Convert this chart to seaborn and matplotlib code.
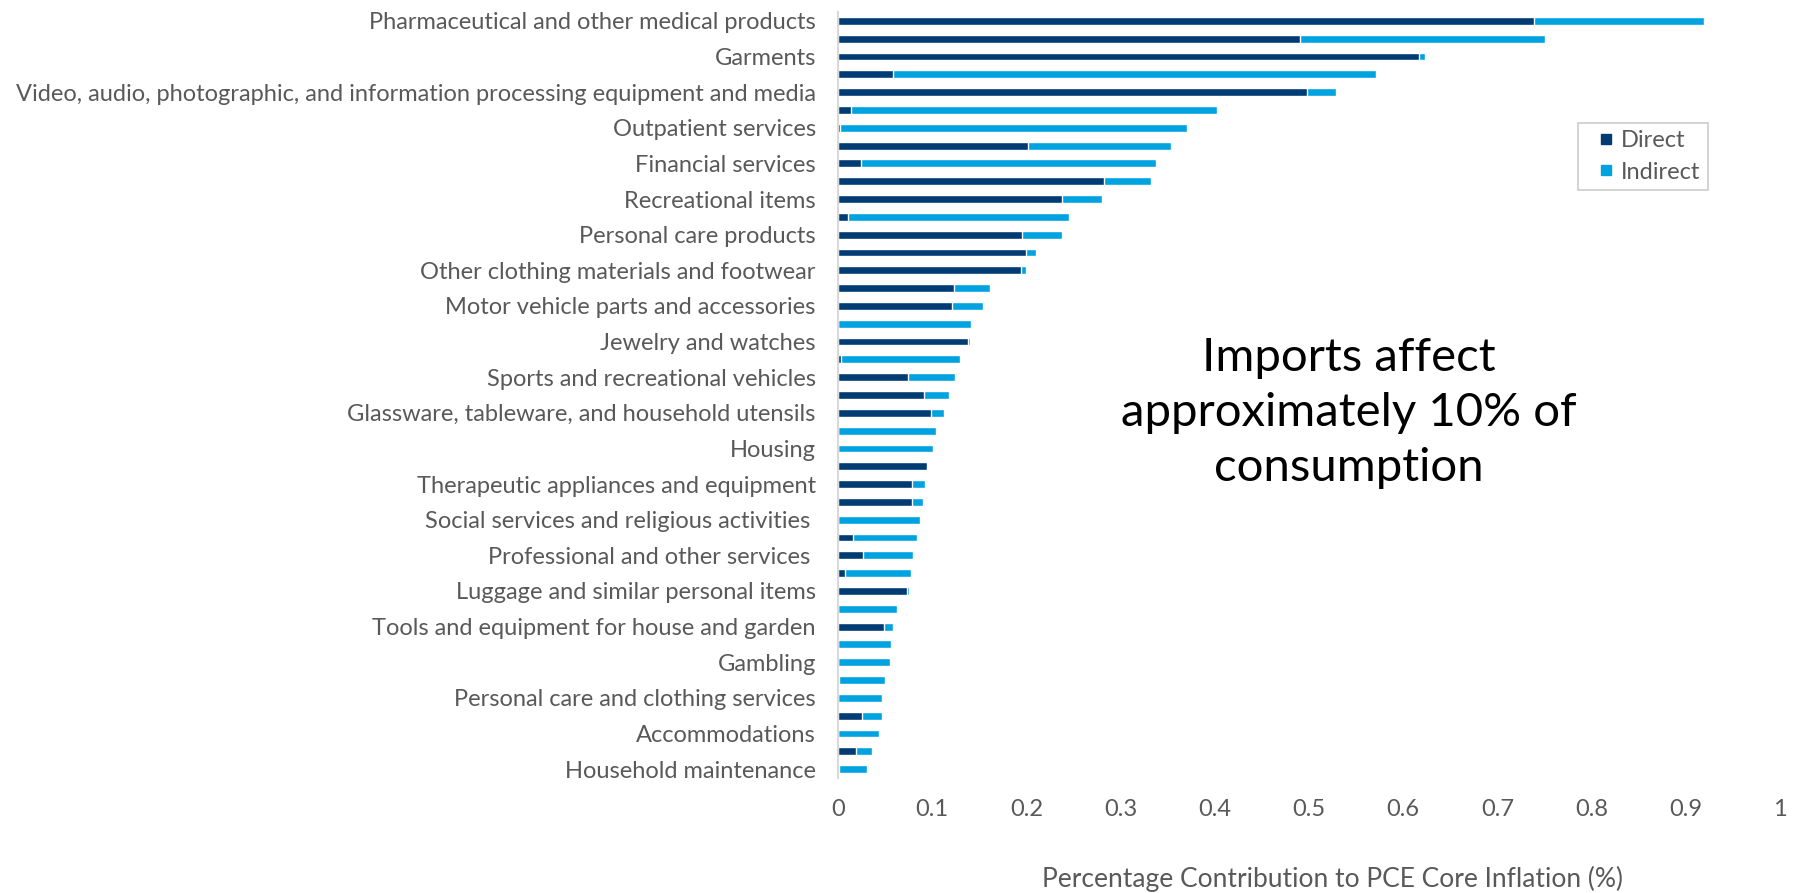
import matplotlib
matplotlib.use("Agg")
import matplotlib.pyplot as plt
from matplotlib.lines import Line2D
import seaborn as sns
import pandas as pd

# ---- data ----
tick_labels = [
    "Pharmaceutical and other medical products", "",
    "Garments", "",
    "Video, audio, photographic, and information processing equipment and media", "",
    "Outpatient services", "",
    "Financial services", "",
    "Recreational items", "",
    "Personal care products", "",
    "Other clothing materials and footwear", "",
    "Motor vehicle parts and accessories", "",
    "Jewelry and watches", "",
    "Sports and recreational vehicles", "",
    "Glassware, tableware, and household utensils", "",
    "Housing", "",
    "Therapeutic appliances and equipment", "",
    "Social services and religious activities ", "",
    "Professional and other services ", "",
    "Luggage and similar personal items", "",
    "Tools and equipment for house and garden", "",
    "Gambling", "",
    "Personal care and clothing services", "",
    "Accommodations", "",
    "Household maintenance",
]
categories = [lab if lab else f"cat_{i}" for i, lab in enumerate(tick_labels)]

direct = [0.739, 0.490, 0.617, 0.058, 0.498, 0.014, 0.002, 0.202, 0.024, 0.282,
          0.238, 0.011, 0.195, 0.200, 0.194, 0.123, 0.121, 0.000, 0.138, 0.003,
          0.074, 0.091, 0.099, 0.000, 0.000, 0.094, 0.079, 0.079, 0.000, 0.016,
          0.027, 0.007, 0.073, 0.000, 0.049, 0.000, 0.000, 0.001, 0.000, 0.026,
          0.000, 0.019, 0.001]
indirect = [0.180, 0.261, 0.006, 0.513, 0.031, 0.388, 0.368, 0.151, 0.314, 0.050,
            0.042, 0.234, 0.043, 0.010, 0.006, 0.038, 0.033, 0.141, 0.002, 0.127,
            0.050, 0.027, 0.014, 0.104, 0.101, 0.001, 0.013, 0.011, 0.087, 0.068,
            0.053, 0.070, 0.002, 0.063, 0.009, 0.056, 0.055, 0.049, 0.047, 0.021,
            0.044, 0.017, 0.030]
x_ticks = [0, 0.1, 0.2, 0.3, 0.4, 0.5, 0.6, 0.7, 0.8, 0.9, 1]
x_tick_labels = ["0", "0.1", "0.2", "0.3", "0.4", "0.5", "0.6", "0.7", "0.8", "0.9", "1"]

df = pd.DataFrame({"category": categories, "direct": direct, "indirect": indirect})
df["total"] = df["direct"] + df["indirect"]

DARK = "#003B73"
LIGHT = "#00A3E0"
GREY_TXT = "#595959"

sns.set_style("white")
plt.rcParams["font.family"] = ["Lato", "DejaVu Sans"]

fig = plt.figure(figsize=(18, 8.93), dpi=100)
ax = fig.add_axes([838 / 1800, 1 - 778 / 893, (1780 - 838) / 1800, (778 - 12) / 893])

sns.barplot(data=df, y="category", x="total", color=LIGHT, orient="h",
            width=0.44, saturation=1, ax=ax, order=categories)
sns.barplot(data=df, y="category", x="direct", color=DARK, orient="h",
            width=0.44, saturation=1, ax=ax, order=categories)

ax.set_xlim(0, 1)
ax.set_ylim(len(categories) - 0.5, -0.5)
ax.set_xticks(x_ticks)
ax.set_xticklabels(x_tick_labels, fontsize=17, color=GREY_TXT)
ax.set_yticks(range(len(categories)))
ax.set_yticklabels(tick_labels, fontsize=17, color=GREY_TXT)
ax.tick_params(axis="both", length=0)
ax.tick_params(axis="y", pad=16)
ax.tick_params(axis="x", pad=15)
ax.set_xlabel("")
ax.set_ylabel("")
for s in ["top", "right", "bottom"]:
    ax.spines[s].set_visible(False)
ax.spines["left"].set_color("#d9d9d9")
ax.spines["left"].set_linewidth(1.5)
ax.grid(False)

fig.text(1333 / 1800, 1 - 879 / 893, "Percentage Contribution to PCE Core Inflation (%)",
         ha="center", va="center", fontsize=19, color=GREY_TXT)

fig.text(1349 / 1800, 1 - 413 / 893, "Imports affect\napproximately 10% of\nconsumption",
         ha="center", va="center", fontsize=34, color="black", linespacing=1.37)

handles = [Line2D([], [], marker="s", linestyle="none", markersize=7,
                  markerfacecolor=DARK, markeredgecolor=DARK, label="Direct"),
           Line2D([], [], marker="s", linestyle="none", markersize=7,
                  markerfacecolor=LIGHT, markeredgecolor=LIGHT, label="Indirect")]
leg = fig.legend(handles=handles, loc="upper left",
                 bbox_to_anchor=(1578 / 1800, 1 - 123 / 893), frameon=True,
                 fancybox=False, fontsize=17, handlelength=1.76,
                 handletextpad=-0.23, borderpad=0.3, labelspacing=0.45,
                 borderaxespad=0)
leg.get_frame().set_edgecolor("#bfbfbf")
leg.get_frame().set_linewidth(1.2)
for t in leg.get_texts():
    t.set_color(GREY_TXT)

fig.savefig("out.png", dpi=100)
